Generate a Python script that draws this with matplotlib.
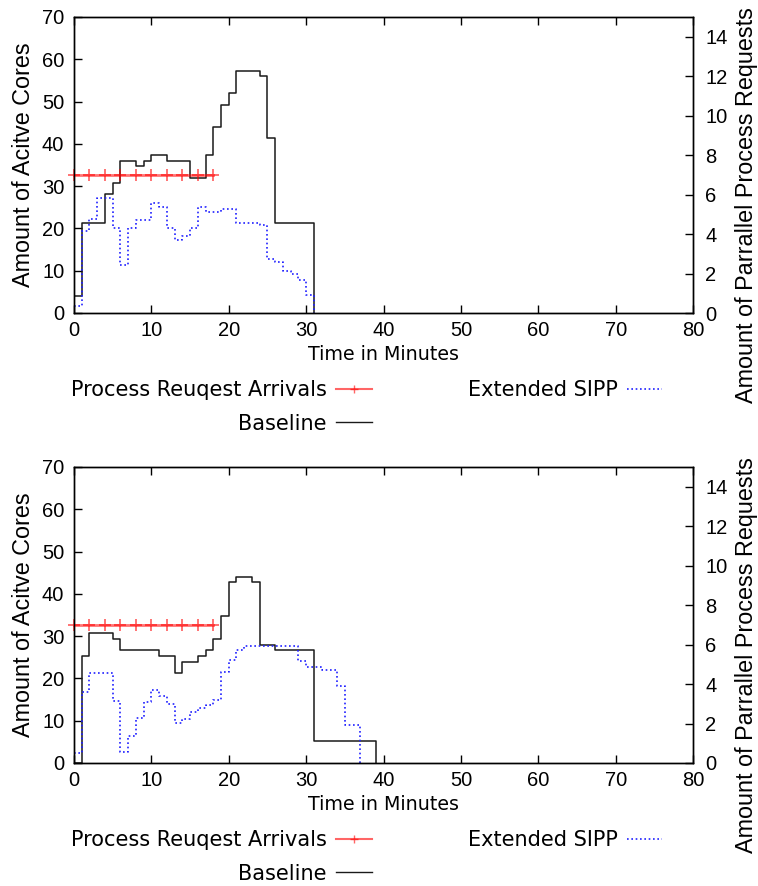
import matplotlib
matplotlib.use("Agg")
import matplotlib.pyplot as plt
from matplotlib.lines import Line2D

plt.rcParams['font.family'] = ['Liberation Sans', 'DejaVu Sans']

# minute-by-minute readings (steps start at the given minute)
minutes_top = list(range(32))
baseline_top = [4, 21.3, 21.3, 21.3, 28.1, 30.7, 36, 36, 34.7, 36, 37.3, 37.3,
                36, 36, 36, 32, 32, 37.3, 44, 49.3, 52, 57.3, 57.3, 57.3, 56,
                41.3, 21.3, 21.3, 21.3, 21.3, 21.3, 0]
sipp_top = [1.7, 19.3, 22.3, 27.3, 27.3, 20, 11.3, 20, 22, 22, 26, 25, 20,
            17.3, 18.3, 20, 25, 24, 24, 24.7, 24.7, 21.3, 21.3, 21.3, 20.7,
            12.7, 12, 10, 9.3, 7.7, 4.3, 0]

minutes_base_bottom = list(range(40))
baseline_bottom = [0, 25.3, 30.7, 30.7, 30.7, 29.3, 26.7, 26.7, 26.7, 26.7,
                   26.7, 25.3, 25.3, 21.3, 24, 24, 25.3, 26.7, 29.3, 34.7,
                   42.7, 44, 44, 42.7, 28, 28, 26.7, 26.7, 26.7, 26.7, 26.7,
                   5.3, 5.3, 5.3, 5.3, 5.3, 5.3, 5.3, 5.3, 0]
minutes_sipp_bottom = list(range(38))
sipp_bottom = [2.4, 16.7, 21.3, 21.3, 21.3, 14.7, 2.7, 6.4, 10.7, 14.4, 17.3,
               15.8, 14, 9.5, 10.4, 12, 13, 13.6, 15, 21.6, 24.4, 26.7,
               27.7, 27.7, 27.7, 27.7, 27.7, 27.7, 27.7, 24.2, 22.8, 22.8,
               22, 22, 18.3, 8.9, 8.9, 0]

arrival_times = [0, 2, 4, 6, 8, 10, 12, 14, 16, 18]
arrival_requests = [7, 7, 7, 7, 7, 7, 7, 7, 7, 7]

x_ticks = list(range(0, 81, 10))
core_ticks = list(range(0, 71, 10))
request_ticks = list(range(0, 15, 2))

W, H = 758, 886
fig = plt.figure(figsize=(W / 100, H / 100), dpi=100)

RED = '#ff0000'
BLACK = '#1a1a1a'
BLUE = '#2020ff'
DOTS = (0, (1.0, 1.6))


def panel(top_px, bx, by, sx, sy, legend_top_px):
    ax = fig.add_axes([74 / W, 1 - (top_px + 296) / H, 619 / W, 296 / H])
    ax2 = ax.twinx()

    ax2.plot(arrival_times, arrival_requests, color=RED, alpha=0.55, lw=2.0,
             marker='+', ms=9, mew=1.4, clip_on=False)
    ax.step(bx, by, where='post', color=BLACK, lw=1.1)
    ax.step(sx, sy, where='post', color=BLUE, lw=1.2, linestyle=DOTS)

    ax.set_xlim(0, 80)
    ax.set_ylim(0, 70)
    ax2.set_ylim(0, 15)
    ax.set_xticks(x_ticks)
    ax.set_yticks(core_ticks)
    ax2.set_yticks(request_ticks)
    ax.tick_params(direction='in', length=6, width=1, top=True, right=False,
                   labelsize=14.5, pad=6)
    ax.tick_params(axis='y', pad=7)
    ax2.tick_params(direction='in', length=6, width=1, labelsize=14.5, pad=9)
    for a in (ax, ax2):
        for s in a.spines.values():
            s.set_linewidth(1.0)

    ax.set_xlabel('Time in Minutes', fontsize=13.7, family='DejaVu Sans', labelpad=3)
    ax.set_ylabel('Amount of Acitve Cores', fontsize=16.8)
    ax2.set_ylabel('Amount of Parrallel Process Requests', fontsize=16.8)
    ax.yaxis.set_label_coords(-0.082, 0.5)
    ax.yaxis.label.set_va('center')
    ax2.yaxis.set_label_coords(1.086, 0.365)
    ax2.yaxis.label.set_va('center')

    # key: gnuplot style, text right-justified left of the sample
    handles = [
        Line2D([], [], color=RED, alpha=0.6, lw=1.5, marker='+', ms=6, mew=1.0),
        Line2D([], [], color=BLACK, lw=1.0),
        Line2D([], [], color=BLUE, lw=1.2, linestyle=DOTS),
    ]
    labels = ['Process Reuqest Arrivals', 'Baseline', 'Extended SIPP']
    fig.legend(handles, labels, ncol=2, markerfirst=False, frameon=False,
               prop={'family': 'DejaVu Sans', 'size': 15},
               handlelength=1.7, handletextpad=0.45, columnspacing=4.6,
               labelspacing=0.65, borderpad=0, borderaxespad=0,
               loc='upper left', bbox_to_anchor=(71 / W, 1 - legend_top_px / H))
    return ax


panel(17, minutes_top, baseline_top, minutes_top, sipp_top, 380)
panel(467, minutes_base_bottom, baseline_bottom, minutes_sipp_bottom, sipp_bottom, 830)

fig.savefig('out.png', dpi=100)
